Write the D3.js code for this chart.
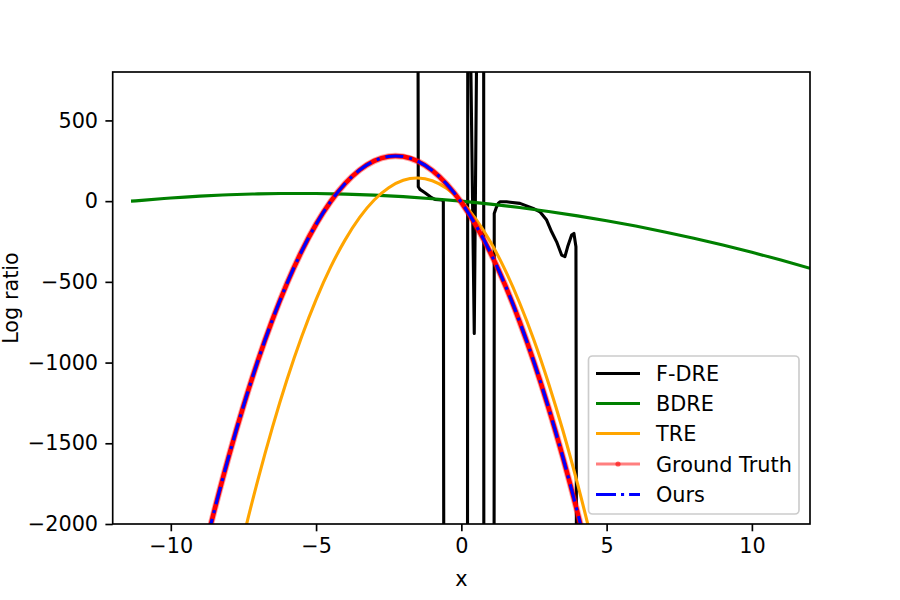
<!DOCTYPE html>
<html>
<head>
<meta charset="utf-8">
<script src="https://cdn.jsdelivr.net/npm/d3@7"></script>
<style>
  html, body { margin: 0; padding: 0; background: #fff; }
  svg { display: block; font-family: "DejaVu Sans", sans-serif; }
</style>
</head>
<body>
<svg id="chart" width="900" height="600"></svg>
<script>
// ---------------- DATA ----------------
const seriesNames = ["F-DRE", "BDRE", "TRE", "Ground Truth", "Ours"];
const xTicks = [-10, -5, 0, 5, 10];
const yTicks = [500, 0, -500, -1000, -1500, -2000];

// Ground truth / Ours (same x grid)
const xTruth = [-9.5, -9, -8.5, -8, -7.5, -7, -6.5, -6, -5.5, -5, -4.5, -4, -3.5, -3, -2.5, -2, -1.5, -1, -0.5, 0, 0.5, 1, 1.5, 2, 2.5, 3, 3.5, 4, 4.5];
const truthValues = [-2676, -2282, -1916, -1578, -1269, -987, -734, -509, -312, -143, -3, 109, 193, 249, 277, 276, 247, 190, 105, -8, -150, -319, -517, -744, -998, -1280, -1591, -1930, -2297];
const oursValues = [-2676, -2282, -1916, -1578, -1269, -987, -734, -509, -312, -143, -3, 109, 193, 249, 277, 276, 247, 190, 105, -8, -150, -319, -517, -744, -998, -1280, -1591, -1930, -2297];

// TRE
const xTRE = [-8, -7.5, -7, -6.5, -6, -5.5, -5, -4.5, -4, -3.5, -3, -2.5, -2, -1.5, -1, -0.5, 0, 0.5, 1, 1.5, 2, 2.5, 3, 3.5, 4, 4.5, 5];
const treValues = [-2469, -2081, -1725, -1400, -1105, -842, -610, -409, -240, -101, 7, 83, 129, 143, 126, 78, -1, -111, -252, -424, -628, -862, -1128, -1424, -1752, -2111, -2501];

// BDRE
const xBDRE = [-11.37, -11, -10, -9, -8, -7, -6, -5, -4, -3, -2, -1, 0, 1, 2, 3, 4, 5, 6, 7, 8, 9, 10, 11, 12];
const bdreValues = [0, 4.9, 19.3, 30.8, 39.3, 44.8, 47.3, 46.9, 43.4, 37.1, 27.7, 15.3, 0, -18.3, -39.6, -63.8, -91.1, -121.3, -154.4, -190.6, -229.7, -271.8, -316.9, -365, -416];

// F-DRE (values beyond the axis range are off-chart)
const xFDRE = [-12, -1.51, -1.483, -1.425, -1.253, -1.022, -0.908, -0.678, -0.62, -0.60, 0.21, 0.225, 0.32, 0.329, 0.444, 0.52, 0.53, 0.765, 0.775, 1.125, 1.132, 1.191, 1.270, 1.328, 1.559, 2.017, 2.474, 2.705, 2.935, 3.107, 3.279, 3.451, 3.565, 3.658, 3.796, 3.875, 3.944, 3.968, 12];
const fdreValues = [3000, 3000, 89, 73, 52, 21, 11, 7, 3, -3000, -3000, 3000, 3000, 800, -820, 800, 3000, 3000, -3000, -3000, -76, -45, -14, -4, -4, -14, -45, -66, -117, -190, -252, -334, -344, -283, -210, -200, -283, -3000, -3000];

// ---------------- CHART ----------------
const svg = d3.select("#chart");
const L = 112.7, R = 810, T = 72, B = 524;
const x = d3.scaleLinear().domain([-12, 12]).range([L, R]);
const y = d3.scaleLinear().domain([-2000, 800]).range([B, T]);
const fs = 20.8;
const fmt = d => (d < 0 ? "\u2212" + Math.abs(d) : String(d));

svg.append("defs").append("clipPath").attr("id", "plotclip")
  .append("rect").attr("x", L).attr("y", T).attr("width", R - L).attr("height", B - T);

const plot = svg.append("g").attr("clip-path", "url(#plotclip)");
const zip = (xs, ys) => xs.map((v, i) => [v, ys[i]]);

const lineLinear = d3.line().x(d => x(d[0])).y(d => y(d[1]));
const lineSmooth = d3.line().x(d => x(d[0])).y(d => y(d[1])).curve(d3.curveNatural);

// F-DRE
plot.append("path").datum(zip(xFDRE, fdreValues))
  .attr("d", lineLinear).attr("fill", "none").attr("stroke", "#000")
  .attr("stroke-width", 3.1).attr("stroke-linejoin", "round");
// BDRE
plot.append("path").datum(zip(xBDRE, bdreValues))
  .attr("d", lineSmooth).attr("fill", "none").attr("stroke", "#008000")
  .attr("stroke-width", 3.1);
// TRE
plot.append("path").datum(zip(xTRE, treValues))
  .attr("d", lineSmooth).attr("fill", "none").attr("stroke", "#ffa500")
  .attr("stroke-width", 3.1);
// Ground truth (dense markers -> band)
plot.append("path").datum(zip(xTruth, truthValues))
  .attr("d", lineSmooth).attr("fill", "none").attr("stroke", "#ff0000")
  .attr("stroke-opacity", 0.35).attr("stroke-width", 6.5);
plot.append("path").datum(zip(xTruth, truthValues))
  .attr("d", lineSmooth).attr("fill", "none").attr("stroke", "#ff0000")
  .attr("stroke-opacity", 1).attr("stroke-width", 4.6);
// Ours
plot.append("path").datum(zip(xTruth, oursValues))
  .attr("d", lineSmooth).attr("fill", "none").attr("stroke", "#0000ff")
  .attr("stroke-width", 3.1).attr("stroke-dasharray", "18,6,3.1,6");

// Axes
const xAxis = d3.axisBottom(x).tickValues(xTicks).tickSize(7.3).tickPadding(7.3).tickFormat(fmt);
const yAxis = d3.axisLeft(y).tickValues(yTicks).tickSize(7.3).tickPadding(7.3).tickFormat(fmt);
const gx = svg.append("g").attr("transform", `translate(0,${B})`).call(xAxis);
const gy = svg.append("g").attr("transform", `translate(${L},0)`).call(yAxis);
[gx, gy].forEach(g => {
  g.select(".domain").remove();
  g.selectAll(".tick line").attr("stroke", "#000").attr("stroke-width", 1.67);
  g.selectAll(".tick text").attr("fill", "#000").style("font-size", fs + "px")
    .style("font-family", "DejaVu Sans");
});

// Frame
svg.append("rect").attr("x", L).attr("y", T).attr("width", R - L).attr("height", B - T)
  .attr("fill", "none").attr("stroke", "#000").attr("stroke-width", 1.67);

// Axis labels
svg.append("text").attr("x", (L + R) / 2).attr("y", 586).attr("text-anchor", "middle")
  .style("font-size", fs + "px").text("x");
svg.append("text").attr("transform", `translate(17.5,${(T + B) / 2}) rotate(-90)`)
  .attr("text-anchor", "middle").style("font-size", fs + "px").text("Log ratio");

// Legend
const lg = svg.append("g");
lg.append("rect").attr("x", 588.5).attr("y", 356).attr("width", 210.5).attr("height", 158)
  .attr("rx", 4).attr("fill", "#fff").attr("fill-opacity", 0.8)
  .attr("stroke", "#cccccc").attr("stroke-width", 1.67);
const rowsY = [373.5, 403.5, 433.5, 464, 494.5];
const styles = [
  { c: "#000" }, { c: "#008000" }, { c: "#ffa500" },
  { c: "#ff0000", op: 0.5, dot: true }, { c: "#0000ff", dash: "20,5,3.1,5" }
];
seriesNames.forEach((name, i) => {
  const yy = rowsY[i], s = styles[i];
  const ln = lg.append("line").attr("x1", 596).attr("x2", 640).attr("y1", yy).attr("y2", yy)
    .attr("stroke", s.c).attr("stroke-width", 3.1);
  if (s.op) ln.attr("stroke-opacity", s.op);
  if (s.dash) ln.attr("stroke-dasharray", s.dash);
  if (s.dot) lg.append("circle").attr("cx", 618).attr("cy", yy).attr("r", 2.6)
    .attr("fill", s.c).attr("fill-opacity", 0.6);
  lg.append("text").attr("x", 656).attr("y", yy + 7.5).style("font-size", fs + "px").text(name);
});
</script>
</body>
</html>
